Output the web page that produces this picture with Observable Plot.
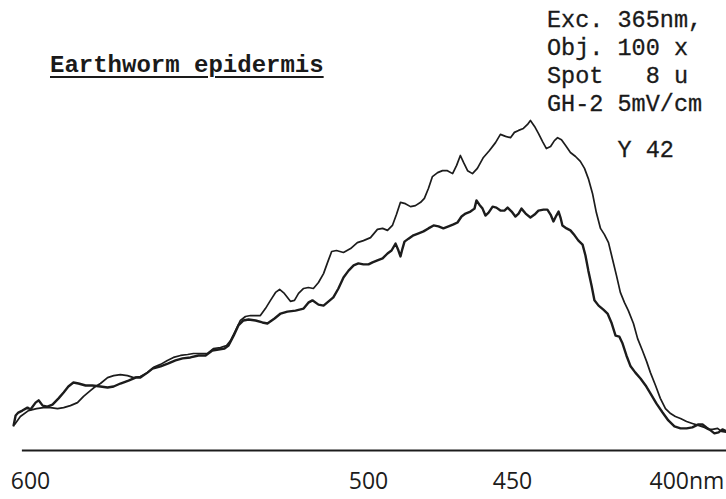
<!DOCTYPE html>
<html>
<head>
<meta charset="utf-8">
<script src="https://cdn.jsdelivr.net/npm/d3@7"></script>
<script src="https://cdn.jsdelivr.net/npm/@observablehq/plot@0.6"></script>
<style>
  html, body { margin: 0; padding: 0; background: #fff; }
  #wrap { position: relative; width: 726px; height: 499px; overflow: hidden; background: #fff; }
  #chart { position: absolute; left: 0; top: 0; }
  .title {
    position: absolute; left: 50px; top: 52px; margin: 0;
    font-family: "Liberation Mono", "DejaVu Sans Mono", monospace;
    font-size: 24px; line-height: 28px; font-weight: bold; color: #1a1a1a;
    text-decoration: underline; text-decoration-thickness: 2px; text-underline-offset: 4px;
    white-space: pre;
  }
  .notes {
    position: absolute; left: 547px; top: 7px; margin: 0;
    font-family: "Liberation Mono", "DejaVu Sans Mono", monospace;
    font-size: 23.5px; line-height: 28px; color: #1a1a1a;
    -webkit-text-stroke: 0.3px #1a1a1a; white-space: pre;
  }
  .notes .gap { display: block; margin-top: 18px; }
</style>
</head>
<body>
<div id="wrap">
  <div id="chart"></div>
  <div class="title" id="title"></div>
  <div class="notes" id="notes"></div>
</div>
<script>
// ---- text ----
const titleText = "Earthworm epidermis";
const noteLines = ["Exc. 365nm,", "Obj. 100 x", "Spot   8 u", "GH-2 5mV/cm"];
const noteExtra = "     Y 42";

// ---- axis ----
const tickWavelengths = [600, 500, 450];
const lastTick = [400];
const lastTickLabel = "400nm";
// the printed wavelength scale of the recorder is not linear
const scaleKnots = [600, 500, 450, 400];
const baselineExtent = [602.4, 383.1];

// ---- emission spectra: [wavelength nm, relative intensity] ----
const thickCurve = [
[605.0,7.6],[604.4,10.6],[603.6,11.5],[602.4,12.1],[600.9,13.0],[600.0,12.4],[598.5,14.5],[597.6,15.2],
[596.4,13.6],[595.0,13.3],[593.5,13.9],[591.7,15.8],[590.2,17.6],[588.8,19.4],[587.3,20.6],[585.8,20.3],
[583.7,19.7],[581.7,19.7],[579.3,19.4],[577.2,19.1],[575.4,19.4],[573.4,20.3],[571.0,21.2],[568.9,22.1],
[567.5,22.1],[565.4,23.6],[563.9,24.8],[561.5,25.5],[559.2,26.4],[557.1,27.3],[555.0,27.9],[552.7,28.2],
[550.3,28.8],[548.2,28.8],[546.2,30.3],[544.4,30.6],[542.6,30.9],[541.4,31.8],[539.9,34.8],[538.5,37.9],
[537.0,39.4],[535.5,39.7],[533.4,39.4],[531.4,38.8],[529.9,38.5],[527.8,40.0],[526.0,41.5],[524.0,42.1],
[521.6,42.4],[519.2,43.0],[517.8,44.8],[516.6,45.5],[514.8,44.2],[513.3,43.9],[511.8,45.2],[510.4,46.4],
[508.9,49.1],[507.4,52.4],[505.9,54.5],[504.4,56.1],[503.0,56.7],[501.5,56.4],[500.0,56.4],[498.6,57.0],
[496.9,57.6],[495.1,58.2],[493.4,59.7],[492.0,60.6],[490.6,62.7],[489.6,60.6],[488.9,58.8],[488.2,61.2],
[487.5,63.3],[486.1,64.2],[484.4,65.2],[482.6,65.8],[480.9,66.4],[479.2,67.3],[477.4,68.2],[475.7,67.9],
[474.0,67.3],[472.2,67.9],[470.5,68.5],[469.1,69.1],[467.7,70.9],[466.3,71.8],[464.6,72.4],[463.2,73.3],
[462.5,75.8],[461.5,74.5],[460.4,73.3],[459.4,71.2],[458.3,72.1],[456.9,73.9],[455.6,73.6],[454.2,72.7],
[452.8,72.7],[451.7,73.6],[450.3,72.4],[449.1,70.9],[448.1,71.8],[447.2,73.3],[445.9,71.8],[444.4,70.6],
[443.1,71.5],[441.9,72.7],[440.3,73.0],[439.1,73.0],[438.1,71.5],[437.2,69.4],[436.3,71.2],[435.6,72.4],
[435.0,70.6],[434.4,68.2],[433.1,67.3],[431.9,66.7],[430.6,65.2],[429.4,63.6],[428.1,62.4],[427.2,59.1],
[426.3,54.5],[425.3,50.0],[424.4,45.5],[423.1,43.9],[421.6,42.7],[420.3,41.5],[419.1,38.8],[417.8,34.8],
[416.6,34.5],[415.6,32.4],[414.4,28.8],[413.1,25.5],[411.6,23.6],[410.0,21.8],[408.4,19.7],[406.9,17.3],
[405.0,14.2],[403.1,11.5],[401.3,9.1],[399.4,7.3],[397.5,6.7],[395.6,6.7],[393.8,7.0],[391.9,7.9],
[390.6,7.9],[389.4,7.0],[388.1,6.1],[386.9,5.2],[385.6,5.5],[384.4,6.4],[383.1,5.8]
];
const thinCurve = [
[604.7,7.9],[603.0,10.3],[600.6,12.1],[598.2,12.7],[596.2,13.0],[594.1,13.0],[592.0,12.7],[590.2,13.0],
[588.2,13.6],[586.1,14.5],[584.3,16.4],[582.2,18.2],[580.8,19.4],[579.3,20.3],[577.2,22.1],[575.4,22.7],
[573.4,23.0],[571.3,22.7],[569.5,22.1],[567.5,22.4],[565.4,23.6],[563.6,25.2],[561.5,26.1],[559.5,27.3],
[557.7,28.2],[555.6,28.8],[553.5,29.1],[551.8,29.4],[549.7,29.4],[547.6,29.4],[545.9,30.9],[543.8,31.2],
[542.0,31.8],[540.8,33.3],[539.3,36.4],[537.9,39.4],[536.4,40.6],[534.9,40.9],[533.4,40.9],[532.0,40.9],
[530.5,43.0],[529.0,45.5],[527.5,47.9],[526.3,48.8],[524.9,47.6],[523.1,45.2],[521.9,45.5],[520.7,47.6],
[519.2,49.1],[517.8,49.4],[516.3,49.1],[514.8,50.9],[513.3,53.6],[512.1,57.0],[510.9,60.3],[509.5,60.6],
[507.4,60.0],[505.3,61.2],[503.3,63.0],[501.5,63.6],[499.3,64.5],[496.9,67.0],[495.1,67.3],[493.4,66.7],
[491.7,68.2],[490.3,71.5],[488.9,75.2],[487.2,74.8],[485.4,73.9],[483.7,74.2],[481.9,75.2],[480.6,76.4],
[479.2,79.4],[477.8,83.0],[476.0,84.2],[474.3,84.8],[472.6,84.8],[470.8,83.9],[469.4,86.4],[468.1,89.4],
[467.0,87.3],[465.6,84.8],[463.9,83.9],[462.2,85.5],[460.1,88.8],[458.0,90.9],[455.9,93.3],[454.2,95.8],
[452.4,95.2],[450.7,94.8],[449.4,96.4],[448.1,97.0],[446.6,97.6],[445.3,98.8],[444.4,100.0],[443.1,98.2],
[441.9,96.1],[440.6,93.6],[439.4,91.5],[438.1,92.1],[436.9,93.9],[435.9,94.8],[434.7,94.2],[433.4,92.4],
[431.9,90.3],[430.3,89.1],[428.8,87.6],[427.5,85.5],[426.3,82.4],[425.0,77.9],[423.8,72.1],[422.5,67.3],
[421.3,65.5],[420.0,63.0],[418.8,58.2],[417.5,53.0],[416.3,47.9],[415.0,44.8],[413.8,42.4],[412.2,38.5],
[410.9,33.9],[409.4,30.3],[408.1,27.0],[406.9,23.6],[405.3,19.7],[403.8,15.8],[402.2,12.7],[400.6,11.2],
[399.1,10.3],[397.5,9.7],[395.6,8.8],[393.8,8.2],[391.9,7.6],[390.0,7.0],[388.8,6.4],[387.5,6.4],
[385.9,6.7],[384.7,5.8],[383.1,5.5]
];

// ---- build ----
document.getElementById("title").textContent = titleText;
const notes = document.getElementById("notes");
notes.textContent = noteLines.join("\n");
const extra = document.createElement("span");
extra.className = "gap";
extra.textContent = noteExtra;
notes.appendChild(extra);

const ink = "#1c1c1c";
const axisFont = "'Open Sans', 'Noto Sans', sans-serif";

const chart = Plot.plot({
  width: 726,
  height: 499,
  marginTop: 0, marginRight: 0, marginLeft: 0, marginBottom: 30,
  style: { background: "#fff", overflow: "visible" },
  x: { type: "linear", domain: scaleKnots, range: [30, 368, 512, 672] },
  y: { domain: [0, 100], range: [450, 120], axis: null },
  marks: [
    Plot.ruleY([0], { x1: baselineExtent[0], x2: baselineExtent[1], stroke: ink, strokeWidth: 2.2 }),
    Plot.line(thinCurve, { x: d => d[0], y: d => d[1], stroke: ink, strokeWidth: 1.7, strokeLinejoin: "round", strokeLinecap: "round" }),
    Plot.line(thickCurve, { x: d => d[0], y: d => d[1], stroke: ink, strokeWidth: 2.4, strokeLinejoin: "round", strokeLinecap: "round" }),
    Plot.axisX({ ticks: tickWavelengths, tickSize: 0, tickPadding: 3, fontSize: 23, fontFamily: axisFont, fill: ink, tickFormat: d => String(d) }),
    Plot.axisX({ ticks: lastTick, tickSize: 0, tickPadding: 3, fontSize: 23, fontFamily: axisFont, fill: ink, textAnchor: "start", dx: -23, letterSpacing: "-0.5px", tickFormat: () => lastTickLabel })
  ]
});
document.getElementById("chart").appendChild(chart);
</script>
</body>
</html>
